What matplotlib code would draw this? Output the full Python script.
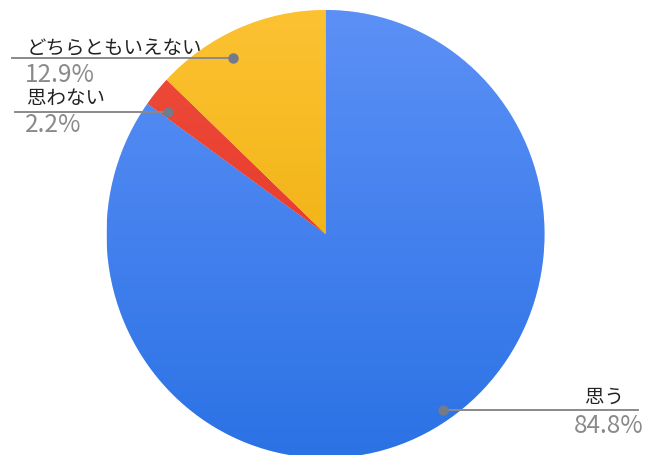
import matplotlib
matplotlib.use("Agg")
import matplotlib.pyplot as plt
import numpy as np
from matplotlib.colors import LinearSegmentedColormap

plt.rcParams['font.family'] = ['Noto Sans CJK JP', 'DejaVu Sans']

# survey answers, clockwise from 12 o'clock
labels = ['思う', '思わない', 'どちらともいえない']
shares = [84.8, 2.2, 12.9]
pct_text = ['84.8%', '2.2%', '12.9%']

# (top colour, bottom colour) for the vertical shading of each slice
shades = [('#5c90f6', '#2b72e5'),
          ('#ef4c3c', '#e1301f'),
          ('#fdc232', '#e6a800')]

W, H = 649, 456
# pie centre and radii in pixels (slightly taller than wide)
cx, cy = 325.5, 235
rx, ry = 219, 224

fig = plt.figure(figsize=(W / 100, H / 100), dpi=100)
ax = fig.add_axes([0, 0, 1, 1])

wedges, _ = ax.pie(shares, radius=1, center=(0, 0), startangle=90,
                   counterclock=False, colors=[s[0] for s in shades],
                   wedgeprops=dict(edgecolor='white', linewidth=0.4))

# vertical gradient fill clipped to each wedge
grad = np.linspace(0, 1, 256).reshape(-1, 1)
for w, (top, bot) in zip(wedges, shades):
    cmap = LinearSegmentedColormap.from_list('g', [bot, top])
    im = ax.imshow(grad, cmap=cmap, origin='lower', aspect='auto',
                   extent=[-1, 1, -1, 1], zorder=w.get_zorder() + 0.1)
    im.set_clip_path(w)

ax.set_xlim(-cx / rx, (W - cx) / rx)
ax.set_ylim(-(H - cy) / ry, cy / ry)
ax.set_aspect('auto')
ax.axis('off')

# overlay in pixel coordinates for leader lines and labels
ov = fig.add_axes([0, 0, 1, 1])
ov.set_xlim(0, W)
ov.set_ylim(H, 0)
ov.axis('off')
ov.patch.set_alpha(0)

line_c = '#8a8a8a'
dot_c = '#737a8a'
name_c = '#222222'
pct_c = '#8a8a8a'
name_fs = 14
pct_fs = 17.5

# どちらともいえない (left, top)
ov.plot([12, 233], [59, 59], color=line_c, lw=1.4)
ov.plot(233, 59, 'o', ms=6.5, color=dot_c)
ov.text(27, 49, labels[2], fontsize=name_fs, color=name_c, ha='left', va='center')
ov.text(25, 75, pct_text[2], fontsize=pct_fs, color=pct_c, ha='left', va='center')

# 思わない
ov.plot([15, 168], [113, 113], color=line_c, lw=1.4)
ov.plot(168, 113, 'o', ms=6.5, color=dot_c)
ov.text(27, 99, labels[1], fontsize=name_fs, color=name_c, ha='left', va='center')
ov.text(25, 125, pct_text[1], fontsize=pct_fs, color=pct_c, ha='left', va='center')

# 思う (right, bottom)
ov.plot([443, 638], [411, 411], color=line_c, lw=1.4)
ov.plot(443, 411, 'o', ms=6.5, color=dot_c)
ov.text(624, 397, labels[0], fontsize=name_fs, color=name_c, ha='right', va='center')
ov.text(644, 426, pct_text[0], fontsize=pct_fs, color=pct_c, ha='right', va='center')

fig.savefig('out.png', dpi=100, facecolor='white')
